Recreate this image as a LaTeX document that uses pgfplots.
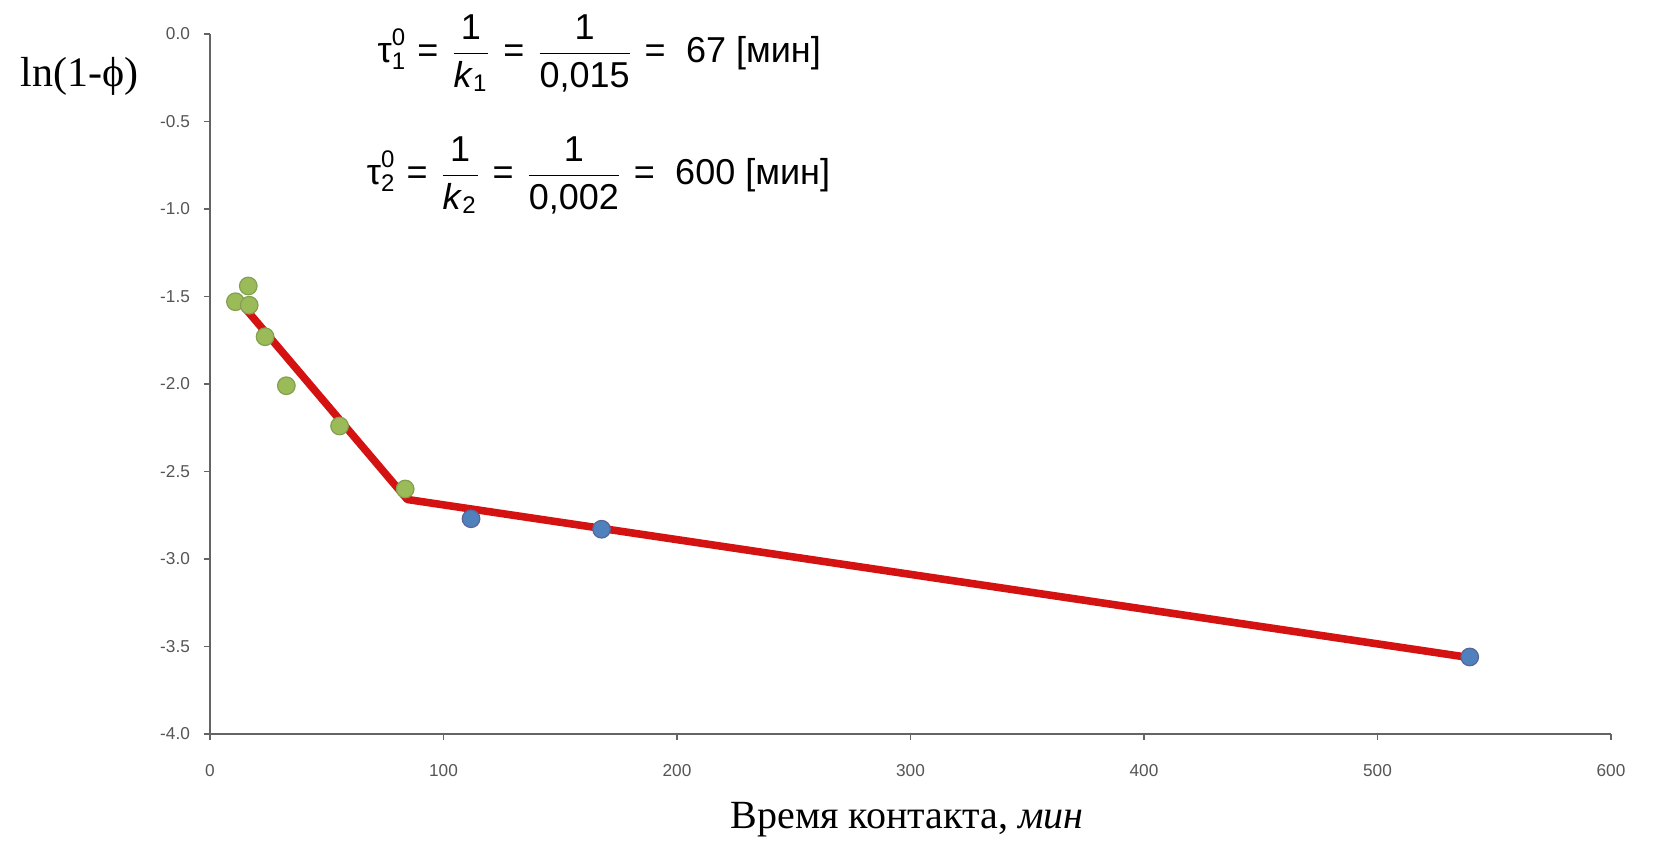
\documentclass[border=0pt]{standalone}
\usepackage{fontspec}
\usepackage{amsmath}
\usepackage{pgfplots}
\pgfplotsset{compat=1.18}
\setmainfont{Liberation Serif}
\newfontfamily\sansf{Liberation Sans}

\definecolor{ptgreen}{RGB}{155,187,89}
\definecolor{ptgreenedge}{RGB}{130,160,80}
\definecolor{ptblue}{RGB}{79,129,189}
\definecolor{ptblueedge}{RGB}{90,100,150}
\definecolor{fitred}{RGB}{212,18,18}
\definecolor{axgray}{RGB}{100,100,100}

\newcommand{\eq}{\mathrel{\text{=}}}

\begin{document}
\begin{tikzpicture}
\useasboundingbox (-52.5pt,-27.25pt) rectangle (363.5pt,183.5pt);
\begin{axis}[
  at={(0,0)}, anchor=south west,
  scale only axis,
  width=350.25pt, height=175pt,
  xmin=0, xmax=600, ymin=-4, ymax=0,
  xtick={0,100,...,600},
  ytick={-4,-3.5,...,0},
  axis lines*=left,
  axis line style={axgray, line width=0.55pt, -},
  tick style={axgray, line width=0.45pt},
  tick align=outside,
  major tick length=1.5pt,
  tick label style={font=\sansf\fontsize{4.3}{5}\selectfont, text=axgray!85!black},
  /pgf/number format/assume math mode=true,
  yticklabel style={/pgf/number format/.cd, fixed, fixed zerofill, precision=1},
  xticklabel style={yshift=-2.5pt},
  clip=false,
]
% fitted two-stage line
\addplot[fitred, line width=1.9pt, line join=round] coordinates {
  (12.7,-1.53) (84.5,-2.66) (537.7,-3.56)
};
% first stage points
\addplot[only marks, mark=*, mark size=2.2pt,
  mark options={fill=ptgreen, draw=ptgreenedge, line width=0.3pt}] coordinates {
  (10.9,-1.53) (16.4,-1.44) (16.8,-1.55) (23.6,-1.73)
  (32.7,-2.01) (55.5,-2.24) (83.6,-2.60)
};
% second stage points
\addplot[only marks, mark=*, mark size=2.2pt,
  mark options={fill=ptblue, draw=ptblueedge, line width=0.3pt}] coordinates {
  (111.8,-2.77) (167.7,-2.83) (539.5,-3.56)
};
\end{axis}

\node[font=\fontsize{10.5}{12}\selectfont] at (-32.6pt,164.4pt) {ln(1-ϕ)};
\node[font=\fontsize{10}{12}\selectfont] at (174.3pt,-21.5pt) {Время контакта, \textit{мин}};

\node[anchor=west, inner sep=0pt, font=\sansf\fontsize{9}{10}\selectfont] at (41.7pt,170.2pt)
  {$\displaystyle \text{τ}^{\text{0}}_{\text{1}} \eq \frac{\text{1}}{\text{\textit{k}}_{\text{1}}} \eq \frac{\text{1}}{\text{0,015}} \eq {}$ 67 [мин]};
\node[anchor=west, inner sep=0pt, font=\sansf\fontsize{9}{10}\selectfont] at (39pt,139.7pt)
  {$\displaystyle \text{τ}^{\text{0}}_{\text{2}} \eq \frac{\text{1}}{\text{\textit{k}}_{\text{2}}} \eq \frac{\text{1}}{\text{0,002}} \eq {}$ 600 [мин]};
\end{tikzpicture}
\end{document}
